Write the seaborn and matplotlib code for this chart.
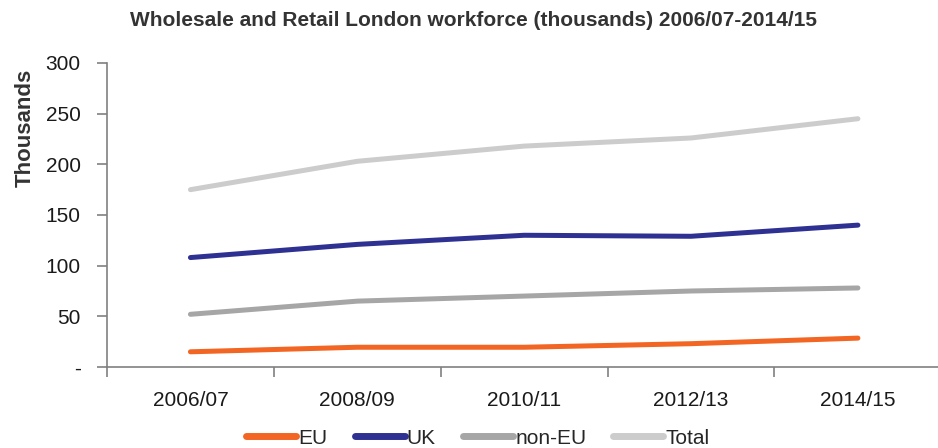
import matplotlib
matplotlib.use("Agg")
import matplotlib.pyplot as plt
import seaborn as sns
import pandas as pd
from matplotlib.ticker import FixedLocator

# data (thousands)
years = ['2006/07', '2008/09', '2010/11', '2012/13', '2014/15']
eu = [15, 19.5, 19.5, 23, 28.5]
uk = [108, 121, 130, 129, 140]
non_eu = [52, 65, 70, 75, 78]
total = [175, 203, 218, 226, 245]

series = ['EU', 'UK', 'non-EU', 'Total']
colors = ['#F26522', '#2E3192', '#A6A6A6', '#CCCCCC']
y_ticks = [0, 50, 100, 150, 200, 250, 300]
y_tick_labels = ['-', '50', '100', '150', '200', '250', '300']

df = pd.DataFrame({
    'year': years * 4,
    'x': list(range(len(years))) * 4,
    'value': eu + uk + non_eu + total,
    'series': [s for s in series for _ in years],
})

sns.set_style("white")
plt.rcParams['font.family'] = ['Liberation Sans', 'DejaVu Sans']

fig = plt.figure(figsize=(9.38, 4.48), dpi=100)
ax = fig.add_axes([107 / 938, 1 - 367 / 448, 1 - 107 / 938, 304 / 448])

sns.lineplot(data=df, x='x', y='value', hue='series', hue_order=series,
             palette=colors, linewidth=3.6, ax=ax, legend=False,
             solid_capstyle='round')

ax.set_xlim(-0.5, 4.48)
ax.set_ylim(0, 300)
ax.set_xlabel('')
ax.set_ylabel('')

# category labels centred, tick marks between categories
ax.set_xticks(range(len(years)))
ax.set_xticklabels(years)
ax.xaxis.set_minor_locator(FixedLocator([i - 0.5 for i in range(len(years) + 1)]))
ax.tick_params(axis='x', which='major', length=0, pad=17, labelsize=15,
               labelcolor='#1a1a1a')
ax.tick_params(axis='x', which='minor', length=7, width=1.2, color='#808080',
               direction='out', bottom=True)

ax.set_yticks(y_ticks)
ax.set_yticklabels(y_tick_labels)
ax.tick_params(axis='y', length=7, width=1.2, color='#808080', direction='out',
               left=True, pad=12, labelsize=15, labelcolor='#1a1a1a')

sns.despine(ax=ax)
for side in ['left', 'bottom']:
    ax.spines[side].set_color('#808080')
    ax.spines[side].set_linewidth(1.2)

fig.text(474 / 938, 1 - 21 / 448,
         'Wholesale and Retail London workforce (thousands) 2006/07-2014/15',
         ha='center', va='center', fontsize=15, fontweight='bold', color='#333333')
fig.text(25 / 938, 1 - 128 / 448, 'Thousands', rotation=90, ha='center',
         va='center', fontsize=16, fontweight='bold', color='#333333')

handles = [plt.Line2D([], [], color=c, linewidth=5, solid_capstyle='round')
           for c in colors]
fig.legend(handles, series, loc='center', bbox_to_anchor=(478 / 938, 1 - 438 / 448),
           ncol=4, frameon=False, fontsize=15, handlelength=2.4,
           handletextpad=0.1, columnspacing=1.3)

fig.savefig('out.png', dpi=100, facecolor='white')
